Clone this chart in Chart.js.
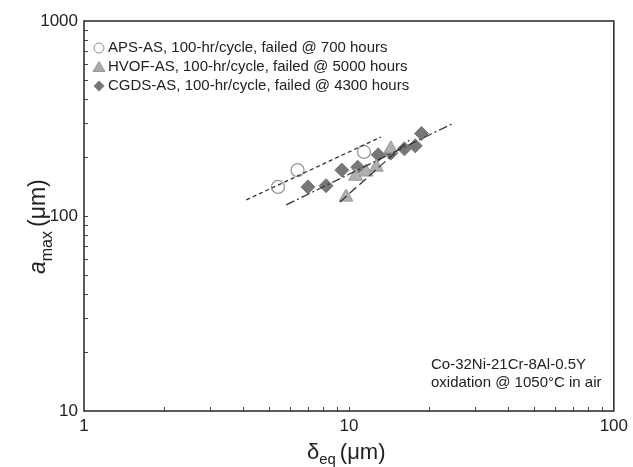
<!DOCTYPE html>
<html>
<head>
<meta charset="utf-8">
<script src="https://cdn.jsdelivr.net/npm/chart.js@4.4.0/dist/chart.umd.min.js"></script>
<style>
  html, body { margin: 0; padding: 0; background: #fff; }
  #wrap { width: 633px; height: 467px; }
</style>
</head>
<body>
<div id="wrap"><canvas id="chart" width="633" height="467"></canvas></div>
<script>
// values (delta_eq in um, a_max in um)
let aps_x = [5.4, 6.4, 11.4];
let aps_y = [141, 172, 213];
let hvof_x = [9.75, 10.6, 11.6, 12.7, 14.4];
let hvof_y = [125, 160, 168, 178, 221];
let cgds_x = [7.0, 8.2, 9.4, 10.8, 12.9, 14.4, 16.2, 17.8, 18.8];
let cgds_y = [141, 143, 172, 178, 206, 210, 221, 229, 265];
// fit lines, end points
let aps_fit_x = [4.1, 13.2];
let aps_fit_y = [121, 254];
let hvof_fit_x = [9.25, 16.9];
let hvof_fit_y = [118, 245];
let cgds_fit_x = [5.8, 24.9];
let cgds_fit_y = [114, 300];

let x_ticks = [1, 10, 100];
let y_ticks = [10, 100, 1000];
let legend_labels = [
    "APS-AS, 100-hr/cycle, failed @ 700 hours",
    "HVOF-AS, 100-hr/cycle, failed @ 5000 hours",
    "CGDS-AS, 100-hr/cycle, failed @ 4300 hours"
];
let note_lines = ["Co-32Ni-21Cr-8Al-0.5Y", "oxidation @ 1050\u00B0C in air"];

const FONT = "'Liberation Sans', Arial, sans-serif";

function pts(xs, ys) {
    let out = [];
    for (let i = 0; i < xs.length; i++) out.push({x: xs[i], y: ys[i]});
    return out;
}

// frame, inward minor ticks, legend, note, axis titles
let decorPlugin = {
    id: 'decor',
    afterDraw(chart) {
        let ctx = chart.ctx;
        let a = chart.chartArea;
        let xs = chart.scales.x, ys = chart.scales.y;
        ctx.save();
        // inward ticks
        ctx.strokeStyle = '#444';
        ctx.lineWidth = 1;
        ctx.beginPath();
        for (let d = 1; d < 100; d *= 10) {
            for (let k = 1; k < 10; k++) {
                let v = d * k;
                if (v <= 1) continue;
                let px = Math.round(xs.getPixelForValue(v)) + 0.5;
                ctx.moveTo(px, a.bottom);
                ctx.lineTo(px, a.bottom - 4);
            }
        }
        for (let d = 10; d < 1000; d *= 10) {
            for (let k = 1; k < 10; k++) {
                let v = d * k;
                if (v <= 10) continue;
                let py = Math.round(ys.getPixelForValue(v)) + 0.5;
                ctx.moveTo(a.left, py);
                ctx.lineTo(a.left + 4, py);
            }
        }
        ctx.stroke();
        // frame
        ctx.strokeStyle = '#333';
        ctx.lineWidth = 1.6;
        ctx.strokeRect(a.left, a.top, a.right - a.left, a.bottom - a.top);

        // legend
        ctx.font = '15px ' + FONT;
        ctx.textBaseline = 'middle';
        ctx.textAlign = 'left';
        let ly = [a.top + 27, a.top + 46, a.top + 65];
        let mx = a.left + 15;
        for (let i = 0; i < legend_labels.length; i++) {
            let y = ly[i];
            ctx.beginPath();
            if (i === 0) {
                ctx.arc(mx, y, 5, 0, Math.PI * 2);
                ctx.strokeStyle = '#888';
                ctx.lineWidth = 1;
                ctx.stroke();
            } else if (i === 1) {
                ctx.moveTo(mx, y - 5.5);
                ctx.lineTo(mx + 6, y + 4.5);
                ctx.lineTo(mx - 6, y + 4.5);
                ctx.closePath();
                ctx.fillStyle = '#aaa';
                ctx.fill();
                ctx.strokeStyle = '#999';
                ctx.stroke();
            } else {
                ctx.moveTo(mx, y - 5.5);
                ctx.lineTo(mx + 5.5, y);
                ctx.lineTo(mx, y + 5.5);
                ctx.lineTo(mx - 5.5, y);
                ctx.closePath();
                ctx.fillStyle = '#777';
                ctx.fill();
            }
            ctx.fillStyle = '#222';
            ctx.fillText(legend_labels[i], mx + 9, y);
        }
        // note
        ctx.font = '15px ' + FONT;
        ctx.fillText(note_lines[0], 431, 365);
        ctx.fillText(note_lines[1], 431, 383);

        // x title: delta_eq (um)
        ctx.fillStyle = '#222';
        ctx.textBaseline = 'alphabetic';
        let cx = (a.left + a.right) / 2;
        let tx = cx - 42;
        ctx.font = '22px ' + FONT;
        ctx.fillText('\u03B4', tx, 459);
        tx += ctx.measureText('\u03B4').width;
        ctx.font = '15px ' + FONT;
        ctx.fillText('eq', tx, 464);
        tx += ctx.measureText('eq').width + 4;
        ctx.font = '22px ' + FONT;
        ctx.fillText('(\u03BCm)', tx, 459);

        // y title: a_max (um), rotated
        ctx.translate(45, (a.top + a.bottom) / 2);
        ctx.rotate(-Math.PI / 2);
        let t = -58;
        ctx.font = 'italic 23px ' + FONT;
        ctx.fillText('a', t, 0);
        t += ctx.measureText('a').width;
        ctx.font = '16px ' + FONT;
        ctx.fillText('max', t, 7);
        t += ctx.measureText('max').width + 4;
        ctx.font = '23px ' + FONT;
        ctx.fillText('(\u03BCm)', t, 0);
        ctx.restore();
    }
};

let lineStyle = {
    showLine: true,
    pointRadius: 0,
    borderColor: '#333',
    borderWidth: 1.3,
    fill: false
};

let ctx = document.getElementById('chart');
let chart = new Chart(ctx, {
    type: 'scatter',
    data: {
        datasets: [
            Object.assign({ data: pts(aps_fit_x, aps_fit_y), borderDash: [4, 3] }, lineStyle),
            Object.assign({ data: pts(hvof_fit_x, hvof_fit_y), borderDash: [9, 4] }, lineStyle),
            Object.assign({ data: pts(cgds_fit_x, cgds_fit_y), borderDash: [9, 3, 2, 3] }, lineStyle),
            {
                label: legend_labels[0],
                data: pts(aps_x, aps_y),
                pointStyle: 'circle',
                pointRadius: 6.5,
                backgroundColor: 'rgba(255,255,255,0)',
                borderColor: '#999',
                borderWidth: 1.3
            },
            {
                label: legend_labels[1],
                data: pts(hvof_x, hvof_y),
                pointStyle: 'triangle',
                pointRadius: 8,
                backgroundColor: '#b0b0b0',
                borderColor: '#999',
                borderWidth: 1
            },
            {
                label: legend_labels[2],
                data: pts(cgds_x, cgds_y),
                pointStyle: 'rectRot',
                pointRadius: 7,
                backgroundColor: '#777',
                borderColor: '#777',
                borderWidth: 1
            }
        ]
    },
    options: {
        responsive: false,
        maintainAspectRatio: false,
        animation: false,
        layout: { padding: { left: 0, right: 15, top: 21, bottom: 0 } },
        plugins: { legend: { display: false }, tooltip: { enabled: false } },
        scales: {
            x: {
                type: 'logarithmic',
                min: 1,
                max: 100,
                afterBuildTicks: (s) => { s.ticks = x_ticks.map(v => ({value: v})); },
                afterFit: (s) => { s.height = 56; },
                grid: { display: false, drawTicks: false },
                border: { display: false },
                ticks: {
                    padding: 5,
                    color: '#222',
                    font: { family: FONT, size: 17 },
                    callback: (v) => String(v),
                    maxRotation: 0
                }
            },
            y: {
                type: 'logarithmic',
                min: 10,
                max: 1000,
                afterBuildTicks: (s) => { s.ticks = y_ticks.map(v => ({value: v})); },
                afterFit: (s) => { s.width = 84; },
                grid: { display: false, drawTicks: false },
                border: { display: false },
                ticks: {
                    padding: 6,
                    color: '#222',
                    font: { family: FONT, size: 17 },
                    callback: (v) => String(v)
                }
            }
        }
    },
    plugins: [decorPlugin]
});
</script>
</body>
</html>
